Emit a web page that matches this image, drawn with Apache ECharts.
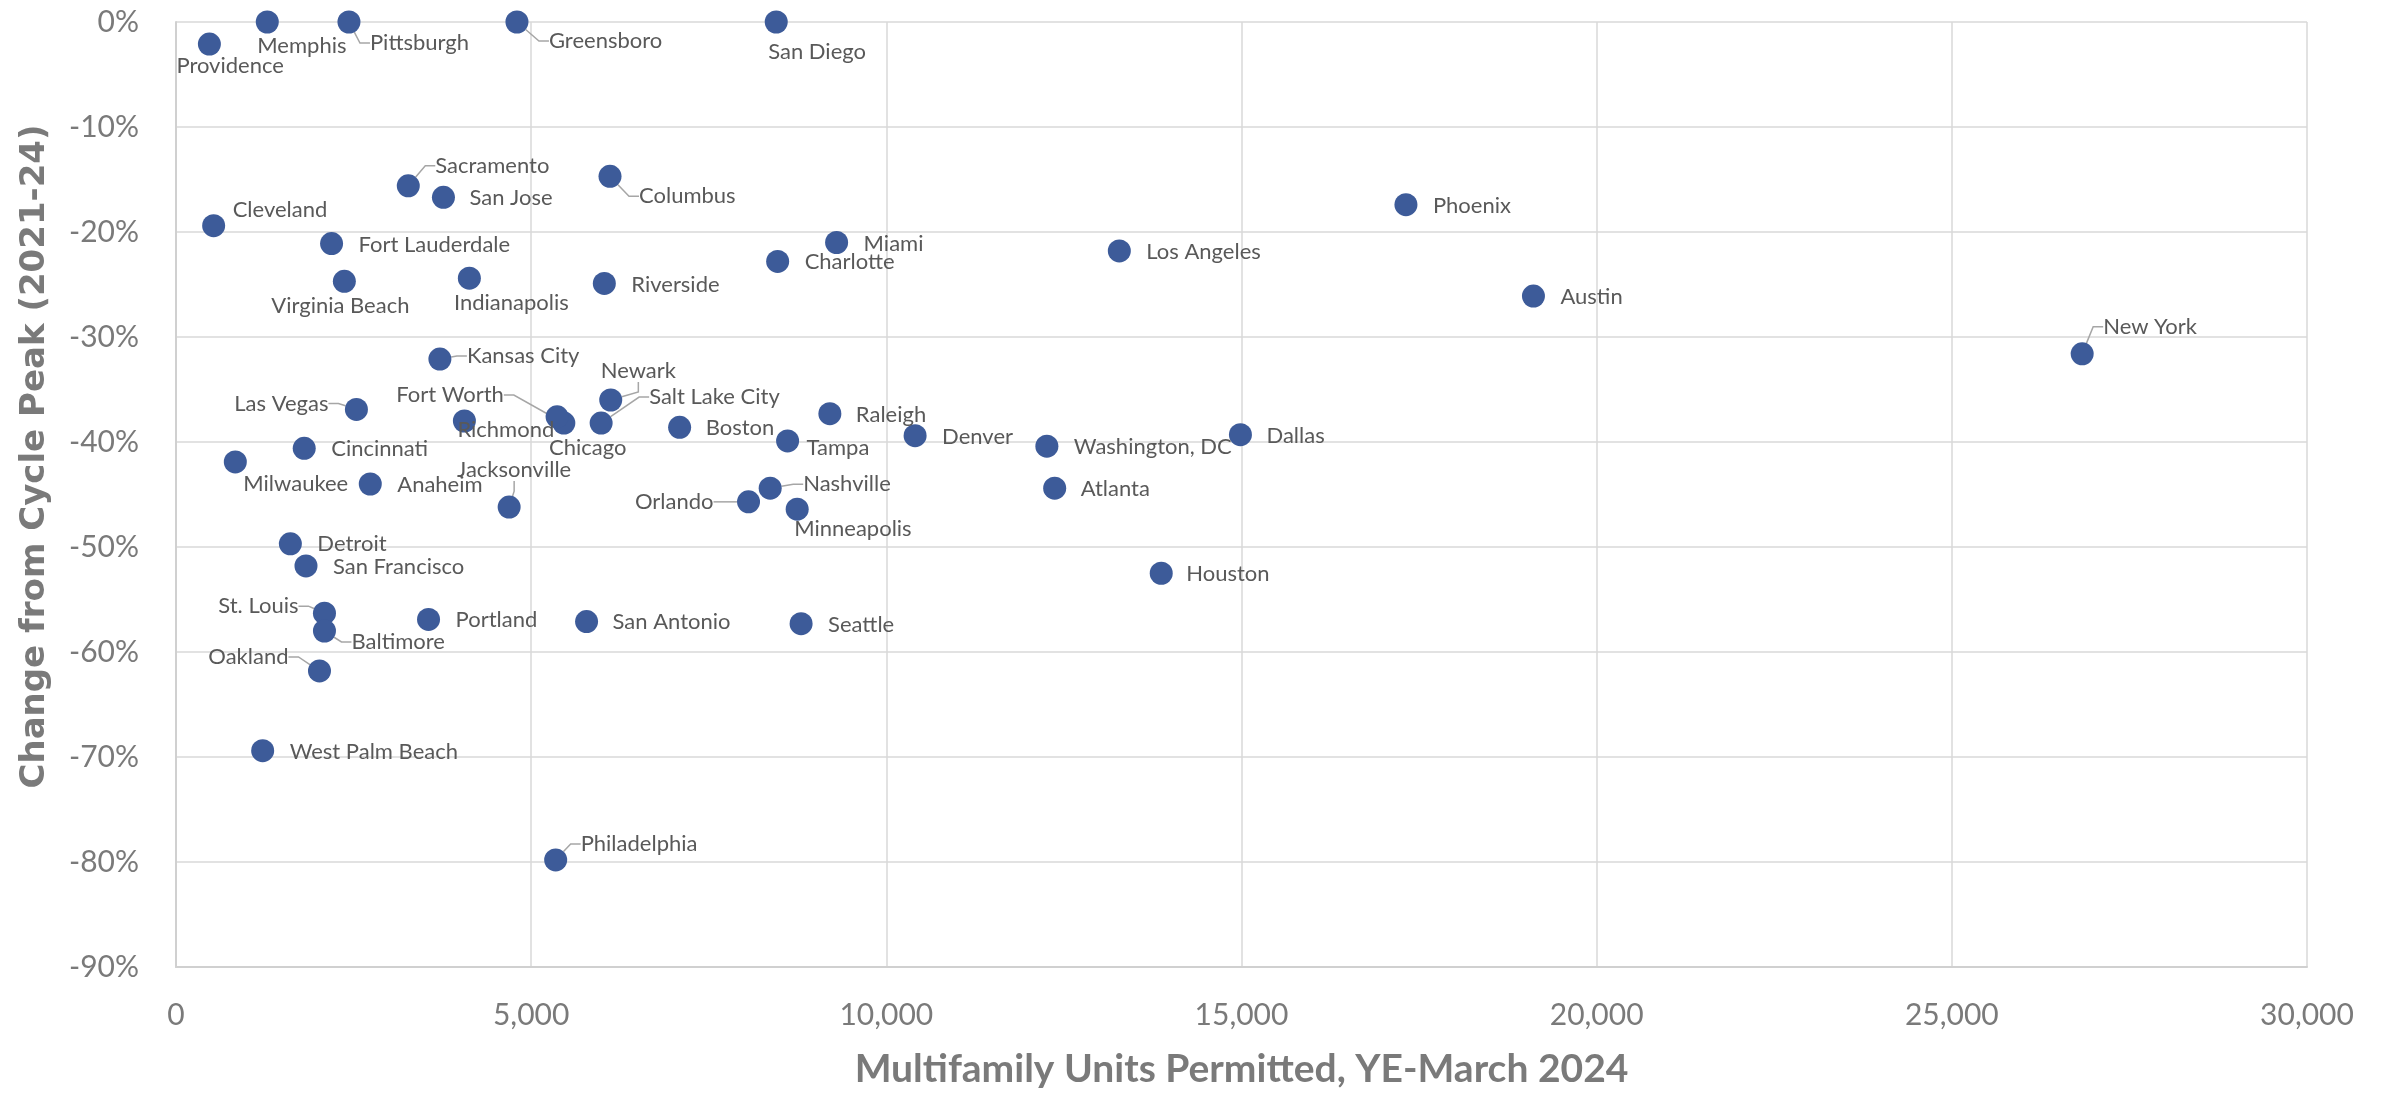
<!DOCTYPE html>
<html>
<head>
<meta charset="utf-8">
<title>Multifamily Permits vs. Change from Cycle Peak</title>
<script src="https://cdn.jsdelivr.net/npm/echarts@6/dist/echarts.min.js"></script>
<style>
  html, body { margin: 0; padding: 0; background: #fff; }
  #chart { width: 2392px; height: 1094px; }
</style>
</head>
<body>
<div id="chart"></div>
<script>
// Metro areas: multifamily units permitted (YE-March 2024) and change from 2021-24 cycle peak (%)
const metros = [
  'Providence', 'Memphis', 'Pittsburgh', 'Greensboro', 'San Diego',
  'Sacramento', 'San Jose', 'Columbus', 'Cleveland', 'Fort Lauderdale',
  'Virginia Beach', 'Indianapolis', 'Riverside', 'Kansas City', 'Las Vegas',
  'Richmond', 'Fort Worth', 'Chicago', 'Newark', 'Salt Lake City',
  'Boston', 'Tampa', 'Raleigh', 'Denver', 'Washington, DC',
  'Atlanta', 'Nashville', 'Orlando', 'Minneapolis', 'Jacksonville',
  'Anaheim', 'Milwaukee', 'Cincinnati', 'Detroit', 'San Francisco',
  'St. Louis', 'Baltimore', 'Portland', 'San Antonio', 'Seattle',
  'Oakland', 'West Palm Beach', 'Philadelphia', 'Phoenix', 'Los Angeles',
  'Austin', 'New York', 'Dallas', 'Houston', 'Charlotte', 'Miami'
];
const unitsPermitted = [
  470, 1285, 2435, 4800, 8450,
  3270, 3765, 6110, 530, 2190,
  2370, 4130, 6030, 3715, 2540,
  4060, 5460, 5365, 6120, 5985,
  7090, 8610, 9205, 10405, 12260,
  12370, 8365, 8060, 8745, 4690,
  2735, 835, 1805, 1610, 1830,
  2090, 2090, 3555, 5780, 8800,
  2020, 1220, 5345, 17315, 13280,
  19110, 26835, 14985, 13870, 8470, 9300
];
const changeFromPeak = [
  -2.1, 0, 0, 0, 0,
  -15.6, -16.7, -14.7, -19.4, -21.1,
  -24.7, -24.4, -24.9, -32.1, -36.9,
  -38.0, -38.2, -37.6, -36.0, -38.2,
  -38.6, -39.9, -37.3, -39.4, -40.4,
  -44.4, -44.4, -45.7, -46.4, -46.2,
  -44.0, -41.9, -40.6, -49.7, -51.8,
  -56.3, -58.0, -56.9, -57.1, -57.3,
  -61.8, -69.4, -79.8, -17.4, -21.8,
  -26.1, -31.6, -39.3, -52.5, -22.8, -21.0
];
const xTicks = { min: 0, max: 30000, step: 5000 };
const yTicks = { min: -90, max: 0, step: 10 };

// Label placement around each marker: [align, dx, dy] in pixels from the marker centre
const labelPlacement = {
  'Providence': ['left', -33, 22], 'Memphis': ['left', -10, 24], 'Pittsburgh': ['left', 21, 21],
  'Greensboro': ['left', 32, 19], 'San Diego': ['left', -8, 30], 'Sacramento': ['left', 27, -20],
  'San Jose': ['left', 26, 1], 'Columbus': ['left', 29, 20], 'Cleveland': ['left', 19, -16],
  'Fort Lauderdale': ['left', 27, 1], 'Virginia Beach': ['center', -4, 25], 'Indianapolis': ['center', 42, 25],
  'Riverside': ['left', 27, 1], 'Kansas City': ['left', 27, -3], 'Las Vegas': ['right', -28, -6],
  'Richmond': ['left', -7, 9], 'Fort Worth': ['right', -60, -28], 'Chicago': ['left', -8, 31],
  'Newark': ['left', -10, -29], 'Salt Lake City': ['left', 48, -26], 'Boston': ['left', 26, 1],
  'Tampa': ['left', 19, 7], 'Raleigh': ['left', 26, 1], 'Denver': ['left', 27, 1],
  'Washington, DC': ['left', 27, 1], 'Atlanta': ['left', 26, 1], 'Nashville': ['left', 33, -4],
  'Orlando': ['right', -35, 0], 'Minneapolis': ['left', -3, 20], 'Jacksonville': ['center', 5, -37],
  'Anaheim': ['left', 27, 1], 'Milwaukee': ['left', 8, 22], 'Cincinnati': ['left', 27, 1],
  'Detroit': ['left', 27, 0], 'San Francisco': ['left', 27, 1], 'St. Louis': ['right', -26, -7],
  'Baltimore': ['left', 27, 11], 'Portland': ['left', 27, 0], 'San Antonio': ['left', 26, 0],
  'Seattle': ['left', 27, 1], 'Oakland': ['right', -31, -14], 'West Palm Beach': ['left', 27, 1],
  'Philadelphia': ['left', 25, -16], 'Phoenix': ['left', 27, 1], 'Los Angeles': ['left', 27, 1],
  'Austin': ['left', 27, 1], 'New York': ['left', 21, -27], 'Dallas': ['left', 26, 1],
  'Houston': ['left', 25, 1], 'Charlotte': ['left', 27, 1], 'Miami': ['left', 27, 1]
};
// Labels that sit away from their marker and get a leader line
const withLeader = new Set([
  'Pittsburgh', 'Greensboro', 'Sacramento', 'Columbus', 'Kansas City', 'Las Vegas',
  'Fort Worth', 'Newark', 'Salt Lake City', 'Jacksonville', 'Orlando', 'Nashville',
  'St. Louis', 'Baltimore', 'Oakland', 'Philadelphia', 'New York'
]);

const points = metros.map((name, i) => ({
  name: name,
  value: [unitsPermitted[i], changeFromPeak[i]],
  labelLine: { show: withLeader.has(name) }
}));

const chart = echarts.init(document.getElementById('chart'), null, { renderer: 'canvas' });

const axisGray = '#7a7a7a';
const gridGray = '#d9d9d9';

chart.setOption({
  animation: false,
  backgroundColor: '#ffffff',
  grid: { left: 176, right: 85, top: 22, bottom: 124 },
  xAxis: {
    type: 'value',
    min: xTicks.min, max: xTicks.max, interval: xTicks.step,
    name: 'Multifamily Units Permitted, YE-March 2024',
    nameLocation: 'middle',
    nameGap: 83,
    nameTextStyle: { fontFamily: 'Lato', fontWeight: 'bold', fontSize: 39, color: axisGray },
    axisLine: { show: true, onZero: false, lineStyle: { color: '#d0d0d0', width: 2 } },
    axisTick: { show: false },
    splitLine: { show: true, lineStyle: { color: gridGray, width: 1.5 } },
    axisLabel: {
      margin: 33, fontFamily: 'Lato', fontSize: 30, color: axisGray,
      formatter: v => v.toLocaleString('en-US')
    }
  },
  yAxis: {
    type: 'value',
    min: yTicks.min, max: yTicks.max, interval: yTicks.step,
    name: 'Change from Cycle Peak (2021-24)',
    nameLocation: 'middle',
    nameGap: 124,
    nameTextStyle: {
      fontFamily: 'DejaVu Sans', fontWeight: 'bold', fontSize: 34, color: axisGray,
      padding: [0, 0, 0, 76]
    },
    axisLine: { show: true, onZero: false, lineStyle: { color: '#d0d0d0', width: 2 } },
    axisTick: { show: false },
    splitLine: { show: true, lineStyle: { color: gridGray, width: 1.5 } },
    axisLabel: {
      margin: 37, fontFamily: 'Lato', fontSize: 30, color: axisGray,
      formatter: v => Math.round(v) + '%'
    }
  },
  series: [{
    type: 'scatter',
    data: points,
    symbol: 'circle',
    symbolSize: 23,
    itemStyle: { color: '#3d5b99', opacity: 1 },
    emphasis: { disabled: true },
    label: {
      show: true,
      formatter: '{b}',
      fontFamily: 'Lato',
      fontSize: 22,
      color: '#595959',
      padding: [2, 5]
    },
    labelLine: {
      length2: 10,
      lineStyle: { color: '#a6a6a6', width: 1.5 }
    },
    labelLayout: function (params) {
      const name = metros[params.dataIndex];
      const p = labelPlacement[name] || ['left', 26, 0];
      const cx = params.rect.x + params.rect.width / 2;
      const cy = params.rect.y + params.rect.height / 2;
      const pad = p[0] === 'left' ? -5 : (p[0] === 'right' ? 5 : 0);
      return {
        x: cx + p[1] + pad,
        y: cy + p[2],
        align: p[0],
        verticalAlign: 'middle'
      };
    }
  }]
});
</script>
</body>
</html>
